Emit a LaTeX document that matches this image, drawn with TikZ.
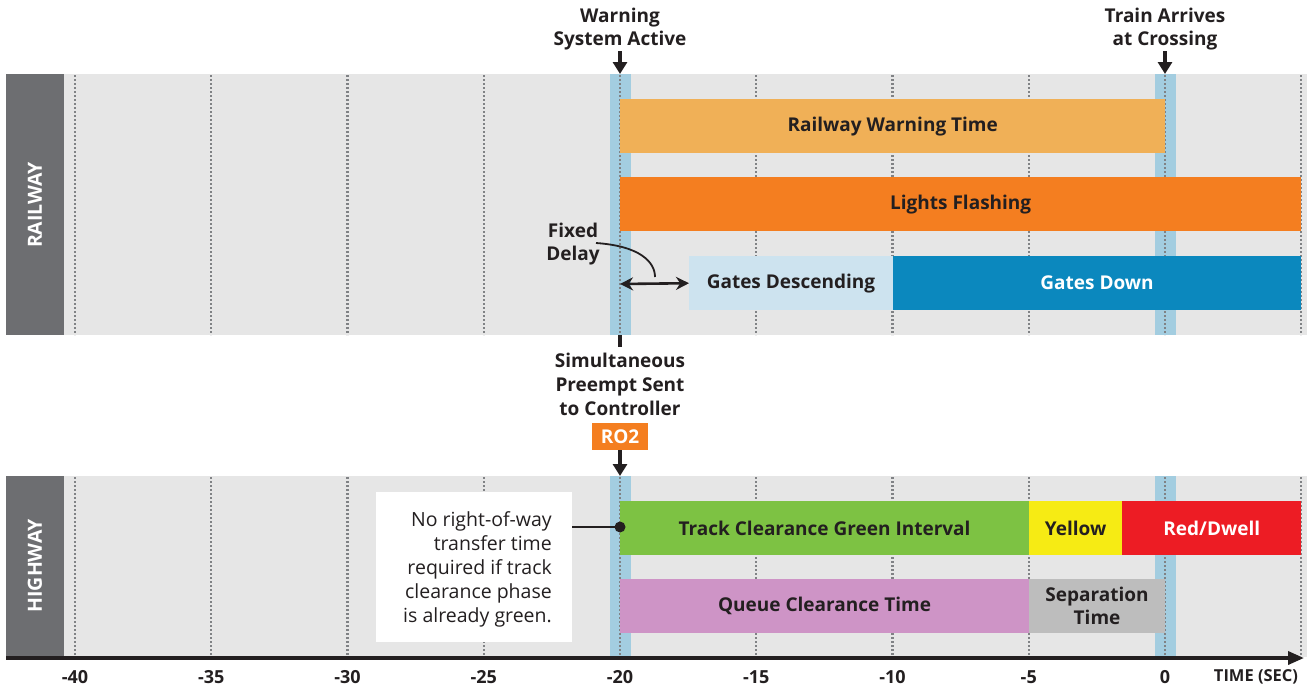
\documentclass[tikz,border=0pt]{standalone}
\usepackage{fontspec}
\setmainfont{Open Sans}
\usetikzlibrary{arrows.meta}
\definecolor{bandgray}{HTML}{E6E6E6}
\definecolor{labelgray}{HTML}{6D6E71}
\definecolor{gridgray}{HTML}{808285}
\definecolor{striptone}{HTML}{A3CDE0}
\definecolor{warnorange}{HTML}{F0B057}
\definecolor{flashorange}{HTML}{F47E20}
\definecolor{gatelight}{HTML}{CDE3EF}
\definecolor{gatedark}{HTML}{0B88BE}
\definecolor{trackgreen}{HTML}{7DC243}
\definecolor{signalyellow}{HTML}{F6EB14}
\definecolor{signalred}{HTML}{ED1C24}
\definecolor{queuepink}{HTML}{CE94C6}
\definecolor{sepgray}{HTML}{BDBDBD}
\definecolor{inkblack}{HTML}{231F20}
\newcommand\lblfont{\bfseries\fontsize{19}{23}\selectfont}
\newcommand\headfont{\bfseries\fontsize{19}{22.5}\selectfont}
\newcommand\notefont{\fontsize{19.5}{24}\selectfont}
\tikzset{
  bar/.style={draw=none, inner sep=0pt, minimum height=54pt, anchor=north west,
    font=\lblfont, text=inkblack, align=center},
  gridline/.style={draw=gridgray, line width=2.4pt, dash pattern=on 2pt off 2pt},
  strip/.style={fill=striptone, draw=none},
  band/.style={fill=bandgray, draw=none},
  sidebox/.style={fill=labelgray, draw=none},
  sidetext/.style={text=white, font=\bfseries\fontsize{19.5}{22}\selectfont, rotate=90},
  headtext/.style={font=\headfont, text=inkblack, align=center, inner sep=0pt},
  pointer/.style={draw=inkblack, line width=3.4pt, -{Triangle[length=12pt,width=14pt]}},
  ticklabel/.style={font=\bfseries\fontsize{18}{20}\selectfont, text=inkblack, inner sep=0pt},
}
\begin{document}
\begin{tikzpicture}[x=1pt,y=-1pt]
\useasboundingbox (0,0) rectangle (1307,689);

% lane backgrounds
\fill[band] (64,74) rectangle (1307,335);
\fill[band] (64,476) rectangle (1307,657);
\fill[sidebox] (6,74) rectangle (64,335);
\fill[sidebox] (6,476) rectangle (64,657);
\node[sidetext] (railway) at (35,205) {RAILWAY};
\node[sidetext] (highway) at (35,566) {HIGHWAY};

% event strips at -20 s and 0 s
\foreach \x in {620,1165}{
  \fill[strip] (\x-10.5,74) rectangle (\x+10.5,335);
  \fill[strip] (\x-10.5,476) rectangle (\x+10.5,657);
}

% 5-second grid
\foreach \x in {75,211.25,347.5,483.75,620,756.25,892.5,1028.75,1165,1301.25}{
  \draw[gridline] (\x,75) -- (\x,335);
  \draw[gridline] (\x,477) -- (\x,656);
}

% railway bars
\node[bar, fill=warnorange, minimum width=545pt] (rwt) at (620,99) {Railway Warning Time};
\node[bar, fill=flashorange, minimum width=681pt] (flash) at (620,177) {Lights Flashing};
\node[bar, fill=gatelight, minimum width=203.5pt] (gdesc) at (689,256) {Gates Descending};
\node[bar, fill=gatedark, minimum width=408.75pt, text=white] (gdown) at (892.5,256) {Gates Down};

% fixed delay
\coordinate (delaystart) at (620,284);
\draw[draw=inkblack, line width=2.6pt, {Stealth[length=13pt,width=13pt]}-{Stealth[length=13pt,width=13pt]}]
  (delaystart) -- (gdesc.west);
\node[headtext] (fixed) at (573,244) {Fixed\\Delay};
\coordinate (delaytip) at (655,277);
\draw[draw=inkblack, line width=1.8pt] (596,243) .. controls (640,246) and (655,262) .. (delaytip);

% event headings
\node[headtext] (warn) at (620,29) {Warning\\System Active};
\coordinate (warnpt) at (620,74);
\draw[pointer] (620,51) -- (warnpt);
\node[headtext] (train) at (1165,29) {Train Arrives\\at Crossing};
\coordinate (trainpt) at (1165,74);
\draw[pointer] (1165,51) -- (trainpt);

% preempt call
\coordinate (tickTop) at (620,335);
\coordinate (tickEnd) at (620,347);
\draw[draw=inkblack, line width=3.5pt] (tickTop) -- (tickEnd);
\node[headtext, font=\bfseries\fontsize{19}{24}\selectfont] (preempt) at (620,384) {Simultaneous\\Preempt Sent\\to Controller};
\node[fill=flashorange, text=white, font=\lblfont, minimum width=56pt, minimum height=27pt, inner sep=0pt] (ro2) at (620,436.5) {RO2};
\coordinate (hwtop) at (620,476);
\draw[pointer] (ro2.south) -- (hwtop);

% highway bars
\node[bar, fill=trackgreen, minimum width=408.75pt] (track) at (620,501) {Track Clearance Green Interval};
\node[bar, fill=signalyellow, minimum width=93.25pt] (yellow) at (1028.75,501) {Yellow};
\node[bar, fill=signalred, minimum width=179.25pt, text=white] (red) at (1122,501) {Red/Dwell};
\node[bar, fill=queuepink, minimum width=408.75pt] (queue) at (620,579) {Queue Clearance Time};
\node[bar, fill=sepgray, minimum width=136.25pt] (sep) at (1028.75,579) {Separation\\Time};

% note
\node[fill=white, minimum width=196pt, minimum height=150pt, inner sep=0pt, anchor=north west] (notebox) at (376,492) {};
\node[font=\notefont, text=inkblack, align=right, anchor=north east, inner sep=0pt] (notetext) at (552,511) {No right-of-way\\transfer time\\required if track\\clearance phase\\is already green.};
\coordinate (notedot) at (620,527);
\draw[draw=inkblack, line width=1.4pt] (notebox.east |- notedot) -- (notedot);
\fill[inkblack] (notedot) circle (5.5pt);

% time axis
\coordinate (axisstart) at (6,658);
\coordinate (axisend) at (1304,658);
\draw[draw=inkblack, line width=3.5pt, -{Triangle[length=16pt,width=13pt]}] (axisstart) -- (axisend);
\foreach \x/\t in {75/-40,211.25/-35,347.5/-30,483.75/-25,620/-20,756.25/-15,892.5/-10,1028.75/-5,1165/0}{
  \node[ticklabel] at (\x,677) {\t};
}
\node[font=\bfseries\fontsize{16.5}{18}\selectfont, text=inkblack, inner sep=0pt] (timelabel) at (1256,677) {TIME (SEC)};
\end{tikzpicture}
\end{document}
